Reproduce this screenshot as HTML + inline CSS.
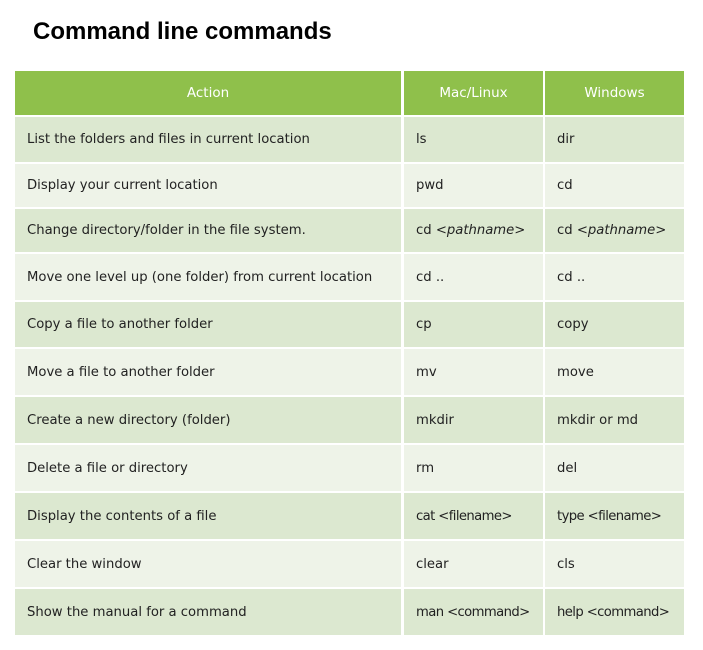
<!DOCTYPE html><html><head><style>
body{margin:0;width:703px;height:650px;background:#fff;font-family:"DejaVu Sans","Liberation Sans",sans-serif;position:relative;overflow:hidden}
h1{position:absolute;left:33px;top:18px;margin:0;font:bold 24px "Liberation Sans",sans-serif;color:#000}
.c{position:absolute;box-sizing:border-box;font-size:13.2px;color:#222;display:flex;align-items:center;padding-left:12px;white-space:nowrap;overflow:hidden}
.h{background:#8fc04b;color:#fff;justify-content:center;padding-left:0;font-size:13.5px}
.d{background:#dce8d0}.l{background:#eef3e8}
.s{letter-spacing:-0.6px}
</style></head><body>
<h1>Command line commands</h1>
<div id="t"></div>
<script>
var cols=[[15,386],[404,139],[545,139]];
var rows=[[117,45],[164,43],[209,43],[254,46],[302,45],[349,46],[397,46],[445,46],[493,46],[541,46],[589,46]];
var data=[["List the folders and files in current location","ls","dir"],["Display your current location","pwd","cd"],["Change directory/folder in the file system.","cd &lt;<i>pathname</i>&gt;","cd &lt;<i>pathname</i>&gt;"],["Move one level up (one folder) from current location","cd ..","cd .."],["Copy a file to another folder","cp","copy"],["Move a file to another folder","mv","move"],["Create a new directory (folder)","mkdir","mkdir or md"],["Delete a file or directory","rm","del"],["Display the contents of a file","cat &lt;filename&gt;","type &lt;filename&gt;"],["Clear the window","clear","cls"],["Show the manual for a command","man &lt;command&gt;","help &lt;command&gt;"]];
var h="",hd=["Action","Mac/Linux","Windows"];
for(var j=0;j<3;j++)h+='<div class="c h" style="left:'+cols[j][0]+'px;top:71px;width:'+cols[j][1]+'px;height:44px">'+hd[j]+'</div>';
for(var i=0;i<11;i++)for(var j=0;j<3;j++){var sm=(j>0&&data[i][j].indexOf('&lt;')>=0&&i>=8)?' s':'';h+='<div class="c '+(i%2?'l':'d')+sm+'" style="left:'+cols[j][0]+'px;top:'+rows[i][0]+'px;width:'+cols[j][1]+'px;height:'+rows[i][1]+'px">'+data[i][j]+'</div>';}
document.getElementById("t").innerHTML=h;
</script>
</body></html>
